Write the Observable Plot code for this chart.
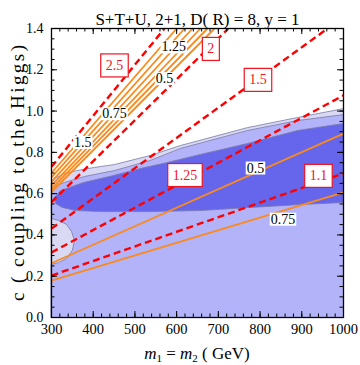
<!DOCTYPE html>
<html><head><meta charset="utf-8">
<script src="https://cdn.jsdelivr.net/npm/d3@7"></script>
<script src="https://cdn.jsdelivr.net/npm/@observablehq/plot@0.6"></script>
<style>body{margin:0;background:#fff} svg{display:block}</style>
</head><body><div id="chart"></div>
<script>
// ---------- text ----------
const titleText = "S+T+U, 2+1, D( R) = 8, y = 1";
const yLabelText = "c ( coupling to the Higgs)";
const xLabelParts = ["m", "1", " = ", "m", "2", " ( GeV)"];

// ---------- ticks ----------
const xTicks = [300, 400, 500, 600, 700, 800, 900, 1000];
const xTickLabels = ["300", "400", "500", "600", "700", "800", "900", "1000"];
const yTicks = [0.0, 0.2, 0.4, 0.6, 0.8, 1.0, 1.2, 1.4];
const yTickLabels = ["0.0", "0.2", "0.4", "0.6", "0.8", "1.0", "1.2", "1.4"];

// ---------- confidence regions: [m (GeV), c] ----------
const regionOuter = [
  [300, 0], [1000, 0], [1000, 1.012], [890, 0.969], [770, 0.920], [609, 0.833],
  [537, 0.785], [451, 0.741], [403, 0.727], [362, 0.712], [331, 0.698], [307, 0.673], [300, 0.654]
];
const regionMiddle = [
  [300, 0], [1000, 0], [1000, 0.983], [890, 0.954], [770, 0.906], [609, 0.819],
  [537, 0.761], [451, 0.712], [379, 0.683], [331, 0.654], [307, 0.635], [300, 0.625],
  [300, 0.480], [317, 0.470], [336, 0.451], [348, 0.417], [355, 0.373], [350, 0.325],
  [336, 0.286], [317, 0.266], [300, 0.257]
];
const regionInner = [
  [307, 0.581], [322, 0.615], [377, 0.654], [449, 0.688], [513, 0.722], [578, 0.751],
  [657, 0.790], [770, 0.843], [890, 0.906], [1000, 0.940], [1000, 0.557], [897, 0.547],
  [777, 0.533], [657, 0.518], [537, 0.513], [418, 0.513], [358, 0.518], [326, 0.533], [310, 0.552]
];

// ---------- red dashed contours ----------
const redLines = [
  {v: "2.5",  m1: 300, c1: 0.730, m2: 571,  c2: 1.400},
  {v: "2",    m1: 300, c1: 0.559, m2: 724,  c2: 1.400},
  {v: "1.5",  m1: 300, c1: 0.431, m2: 962,  c2: 1.400},
  {v: "1.25", m1: 300, c1: 0.315, m2: 1000, c2: 1.076},
  {v: "1.1",  m1: 300, c1: 0.203, m2: 1000, c2: 0.698}
];
const redLabels = [
  {t: "2.5",  m: 451, c: 1.221},
  {t: "2",    m: 682, c: 1.301},
  {t: "1.5",  m: 795, c: 1.151},
  {t: "1.25", m: 620, c: 0.690},
  {t: "1.1",  m: 940, c: 0.686}
];

// ---------- orange contours ----------
const orangeLines = [
  {m1: 300, c1: 0.700, m2: 600,  c2: 1.400},
  {m1: 300, c1: 0.679, m2: 619,  c2: 1.400},
  {m1: 300, c1: 0.658, m2: 638,  c2: 1.400},
  {m1: 300, c1: 0.639, m2: 657,  c2: 1.400},
  {m1: 300, c1: 0.623, m2: 674,  c2: 1.400},
  {m1: 300, c1: 0.608, m2: 691,  c2: 1.400},
  {m1: 300, c1: 0.263, m2: 1000, c2: 0.891},
  {m1: 300, c1: 0.179, m2: 1000, c2: 0.606}
];
const orangeLabels = [
  {t: "1.5",  m: 375, c: 0.848},
  {t: "0.75", m: 451, c: 0.987},
  {t: "1.25", m: 593, c: 1.311},
  {t: "0.5",  m: 571, c: 1.157},
  {t: "0.5",  m: 789, c: 0.724},
  {t: "0.75", m: 855, c: 0.476}
];

// ---------- layout ----------
const W = 360, H = 365, mt = 28, mr = 17, mb = 48, ml = 51;
const fw = W - ml - mr, fh = H - mt - mb;
const xMinor = d3.range(300, 1001, 20);
const yMinor = d3.range(0, 1.4001, 0.05);
const serif = "'Liberation Serif', 'DejaVu Serif', serif";

const poly = (pts, fill) => Plot.line(pts, {x: d => d[0], y: d => d[1], fill, stroke: "#7a7aa8", strokeWidth: 0.8, curve: "linear-closed"});

const plot = Plot.plot({
  width: W, height: H, marginTop: mt, marginRight: mr, marginBottom: mb, marginLeft: ml,
  x: {domain: [300, 1000]},
  y: {domain: [0, 1.4]},
  style: {fontFamily: serif, fontSize: "14px", background: "white", color: "black"},
  marks: [
    poly(regionOuter, "#d9d9f3"),
    poly(regionMiddle, "#b3b3f9"),
    poly(regionInner, "#6666ec"),
    Plot.link(orangeLines, {x1: "m1", y1: "c1", x2: "m2", y2: "c2", stroke: "#fb8a1c", strokeWidth: 1.8}),
    Plot.link(redLines, {x1: "m1", y1: "c1", x2: "m2", y2: "c2", stroke: "#ff0000", strokeWidth: 2.4, strokeDasharray: "7,4"}),
    Plot.text(orangeLabels, {x: "m", y: "c", text: "t", fill: "black", fontSize: 14, ariaDescription: "orange-labels"}),
    Plot.text(redLabels, {x: "m", y: "c", text: "t", fill: "#f0141e", fontSize: 14, ariaDescription: "red-labels"}),
    Plot.ruleX(xTicks, {insetTop: fh - 6, stroke: "black"}),
    Plot.ruleX(xMinor, {insetTop: fh - 3.5, stroke: "black"}),
    Plot.ruleX(xTicks, {insetBottom: fh - 6, stroke: "black"}),
    Plot.ruleX(xMinor, {insetBottom: fh - 3.5, stroke: "black"}),
    Plot.ruleY(yTicks, {insetRight: fw - 6, stroke: "black"}),
    Plot.ruleY(yMinor, {insetRight: fw - 3.5, stroke: "black"}),
    Plot.ruleY(yTicks, {insetLeft: fw - 6, stroke: "black"}),
    Plot.ruleY(yMinor, {insetLeft: fw - 3.5, stroke: "black"}),
    Plot.frame({stroke: "black", strokeWidth: 1.3}),
    Plot.axisX(xTicks, {tickSize: 0, tickPadding: 6, label: null, fontSize: 14.5, tickFormat: (d, i) => xTickLabels[i]}),
    Plot.axisY(yTicks, {tickSize: 0, tickPadding: 8, label: null, fontSize: 14, tickFormat: (d, i) => yTickLabels[i]}),
    Plot.text([titleText], {frameAnchor: "top", dy: -16, fontSize: 17}),
    Plot.text([yLabelText], {frameAnchor: "left", dx: -34, rotate: -90, textAnchor: "middle", fontSize: 19, ariaDescription: "y-label"})
  ]
});
document.getElementById("chart").append(plot);

// boxes behind contour labels
function boxes(desc, stroke, px, py) {
  d3.select(plot).selectAll(`g[aria-description="${desc}"] text`).each(function () {
    const b = this.getBBox();
    const r = d3.select(this.parentNode).insert("rect", () => this)
      .attr("x", b.x - px).attr("y", b.y - py)
      .attr("width", b.width + 2 * px).attr("height", b.height + 2 * py)
      .attr("fill", "white").attr("stroke", stroke).attr("stroke-width", stroke === "none" ? 0 : 1.2);
    const tr = this.getAttribute("transform");
    if (tr) r.attr("transform", tr);
  });
}
boxes("orange-labels", "none", 1, -1);
boxes("red-labels", "#f0141e", 5, 4);

// stretch the y label to the reference's length
d3.select(plot).selectAll(`g[aria-description="y-label"] text`)
  .attr("textLength", 256).attr("lengthAdjust", "spacing");

// x label with subscripts
const xl = d3.select(plot).append("text")
  .attr("x", ml + fw / 2).attr("y", H - 6).attr("text-anchor", "middle")
  .attr("font-family", serif).attr("font-size", 17);
xl.append("tspan").attr("font-style", "italic").text(xLabelParts[0]);
xl.append("tspan").attr("font-size", 11).attr("dy", 3).text(xLabelParts[1]);
xl.append("tspan").attr("dy", -3).text(xLabelParts[2]);
xl.append("tspan").attr("font-style", "italic").text(xLabelParts[3]);
xl.append("tspan").attr("font-size", 11).attr("dy", 3).text(xLabelParts[4]);
xl.append("tspan").attr("dy", -3).text(xLabelParts[5]);
</script>
</body></html>
